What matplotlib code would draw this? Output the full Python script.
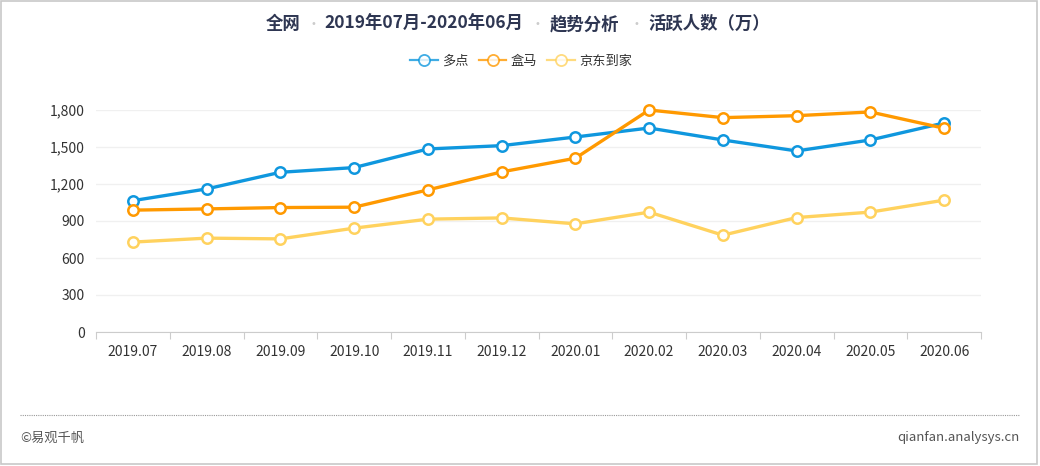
import matplotlib
matplotlib.use("Agg")
import matplotlib.pyplot as plt
from matplotlib.ticker import FuncFormatter, FixedLocator
from matplotlib.lines import Line2D
from matplotlib.patches import Rectangle

plt.rcParams['font.family'] = ['Noto Sans CJK SC', 'DejaVu Sans']

months = ["2019.07", "2019.08", "2019.09", "2019.10", "2019.11", "2019.12",
          "2020.01", "2020.02", "2020.03", "2020.04", "2020.05", "2020.06"]
duodian = [1065, 1160, 1295, 1333, 1484, 1511, 1581, 1654, 1557, 1468, 1557, 1695]
hema = [988, 998, 1009, 1012, 1152, 1298, 1409, 1800, 1738, 1754, 1784, 1652]
jingdong = [729, 761, 755, 842, 915, 925, 877, 972, 785, 928, 972, 1069]
series_names = ["多点", "盒马", "京东到家"]
colors = ["#0f97de", "#ff9900", "#ffd25e"]
yticks = [0, 300, 600, 900, 1200, 1500, 1800]

W, H = 1040, 466
fig = plt.figure(figsize=(W / 100, H / 100), dpi=100)
fig.patch.set_facecolor("white")

# outer frame
fig.patches.append(Rectangle((0.5 / W, 2.5 / H), (W - 4) / W, (H - 3) / H,
                             transform=fig.transFigure, fill=False,
                             edgecolor="#c8c8c8", linewidth=1.2))

ax = fig.add_axes([96 / W, (H - 332) / H, 885 / W, 222 / H])
x = list(range(len(months)))
for vals, name, c in zip([duodian, hema, jingdong], series_names, colors):
    ax.plot(x, vals, color=c, linewidth=2.4, marker="o", markersize=7.5,
            markerfacecolor="white", markeredgecolor=c, markeredgewidth=1.8,
            label=name, zorder=3, clip_on=False)

ax.set_xlim(-0.5, len(months) - 0.5)
ax.set_ylim(0, 1800)
ax.set_yticks(yticks)
ax.yaxis.set_major_formatter(FuncFormatter(lambda v, p: f"{int(v):,}"))
ax.grid(axis="y", color="#f0f0f0", linewidth=1)
ax.set_axisbelow(True)
for s in ["top", "right", "left"]:
    ax.spines[s].set_visible(False)
ax.spines["bottom"].set_color("#cccccc")
ax.tick_params(axis="y", length=0, labelsize=10, labelcolor="#333333", pad=8)

ax.xaxis.set_major_locator(FixedLocator([i - 0.5 for i in range(len(months) + 1)]))
ax.xaxis.set_minor_locator(FixedLocator(x))
ax.set_xticklabels([], minor=False)
ax.set_xticklabels(months, minor=True)
ax.tick_params(axis="x", which="major", length=5, color="#cccccc")
ax.tick_params(axis="x", which="minor", length=0, labelsize=10,
               labelcolor="#333333", pad=9)

# title
title_color = "#2e3652"
ty = 1 - 24 / H
parts = [("全网", 266), ("2019年07月-2020年06月", 324), ("趋势分析", 550), ("活跃人数（万）", 648)]
for t, px in parts:
    fig.text(px / W, ty, t, ha="left", va="center", fontsize=12.5,
             fontweight="bold", color=title_color)
for px in [313, 537, 636]:
    fig.text(px / W, ty, "•", ha="center", va="center", fontsize=7,
             color="#cccccc", family="DejaVu Sans")

# legend
handles = [Line2D([0], [0], color=c, linewidth=1.6, marker="o", markersize=8,
                  markerfacecolor="white", markeredgecolor=c, markeredgewidth=1.3,
                  alpha=0.8)
           for c in colors]
fig.legend(handles, series_names, loc="center", bbox_to_anchor=(521 / W, 1 - 61 / H),
           ncol=3, frameon=False, fontsize=9.5, handlelength=2.1, handletextpad=0.3,
           columnspacing=0.8, labelcolor="#333333")

# footer
fig.add_artist(Line2D([20 / W, 1020 / W], [1 - 415 / H, 1 - 415 / H],
                      transform=fig.transFigure, color="#999999",
                      linewidth=0.8, linestyle=(0, (1, 1))))
fig.text(20 / W, 1 - 438 / H, "©易观千帆", ha="left", va="center",
         fontsize=9.5, color="#555555")
fig.text(1020 / W, 1 - 438 / H, "qianfan.analysys.cn", ha="right", va="center",
         fontsize=9.5, color="#555555")

fig.savefig("out.png", dpi=100, facecolor="white")
